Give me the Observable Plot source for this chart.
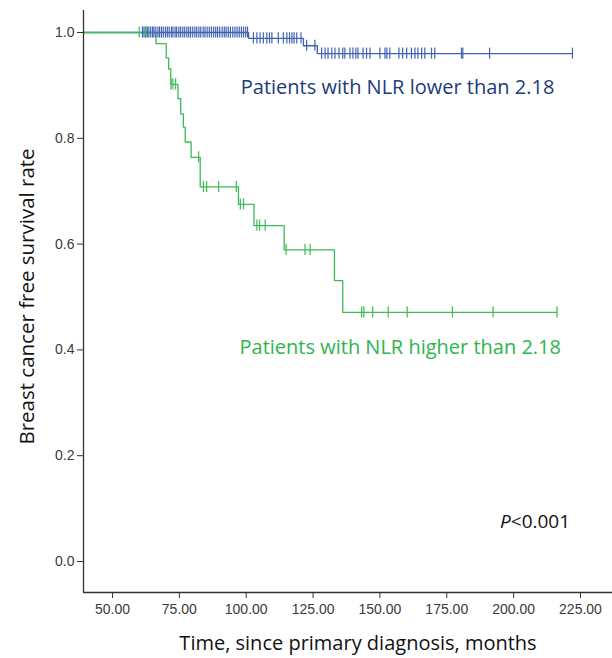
<!DOCTYPE html>
<html>
<head>
<meta charset="utf-8">
<script src="https://cdn.jsdelivr.net/npm/d3@7"></script>
<script src="https://cdn.jsdelivr.net/npm/@observablehq/plot@0.6"></script>
<style>
  html, body { margin: 0; padding: 0; background: #fff; }
  #chart svg { display: block; }
</style>
</head>
<body>
<div id="chart"></div>
<script>
// ---- data ----
const xTicks = [50, 75, 100, 125, 150, 175, 200, 225];
const yTicks = [0.0, 0.2, 0.4, 0.6, 0.8, 1.0];

// NLR lower than 2.18 (blue): Kaplan-Meier steps
const lowTime = [0, 100.9, 121.4, 126.6, 222.0];
const lowSurv = [1.0, 0.989, 0.975, 0.960, 0.960];
const lowCensor = [
  61.2, 61.8, 62.5, 63.0, 63.6, 64.3, 65.0, 65.5, 66.2, 67.0, 67.6, 68.3, 69.0, 69.8,
  70.5, 71.2, 72.0, 72.6, 73.4, 74.0, 74.8, 75.5, 76.3, 77.0, 77.8, 78.5, 79.2, 80.0,
  80.8, 81.5, 82.3, 83.0, 83.9, 84.6, 85.4, 86.2, 87.0, 87.8, 88.6, 89.3, 90.1, 91.0,
  91.8, 92.5, 93.3, 94.1, 95.0, 95.8, 96.6, 97.4, 98.2, 99.0, 99.8, 100.5,
  102.7, 104.0, 105.2, 106.4, 107.7, 108.7, 109.6, 112.0, 113.9, 115.2, 116.2, 117.1,
  117.9, 118.9, 120.5,
  122.6, 125.7,
  128.2, 129.5, 130.6, 132.0, 133.2, 134.7, 136.1, 136.9, 138.8, 139.9, 141.0, 141.8,
  143.7, 145.0, 146.3, 150.0, 151.9, 152.6, 153.7, 157.1, 158.5, 160.0, 161.8, 163.1,
  164.2, 165.6, 166.8, 169.3, 170.5, 180.5, 181.0, 191.0, 222.0
];

// NLR higher than 2.18 (green): Kaplan-Meier steps
const highTime = [0, 66.3, 70.1, 71.0, 71.8, 74.5, 75.5, 76.5, 77.2, 79.4, 82.8, 97.1, 102.9, 114.2, 133.0, 136.1, 216.2];
const highSurv = [1.0, 0.979, 0.952, 0.931, 0.902, 0.875, 0.846, 0.821, 0.793, 0.764, 0.708, 0.675, 0.635, 0.589, 0.531, 0.471, 0.471];
const highCensor = [
  60.0, 62.3, 71.9, 72.6, 73.6, 82.2, 84.0, 85.2, 89.7, 96.3, 97.8, 99.0,
  104.0, 105.0, 107.1, 114.9, 122.0, 123.9,
  143.2, 144.0, 147.3, 153.1, 160.2, 177.1, 192.3, 216.2
];

const labels = {
  low: "Patients with NLR lower than 2.18",
  high: "Patients with NLR higher than 2.18",
  yTitle: "Breast cancer free survival rate",
  xTitle: "Time, since primary diagnosis, months"
};

// ---- build tables ----
const steps = (times, surv) => times.map((t, i) => ({t, s: surv[i]}));
const survAt = (times, surv, t) => {
  let s = surv[0];
  for (let i = 0; i < times.length; i++) if (times[i] <= t) s = surv[i];
  return s;
};
const lowSteps = steps(lowTime, lowSurv);
const highSteps = steps(highTime, highSurv);
const lowMarks = lowCensor.map(t => ({t, s: survAt(lowTime, lowSurv, t)}));
const highMarks = highCensor.map(t => ({t, s: survAt(highTime, highSurv, t)}));

const BLUE = "#4262b2";
const GREEN = "#3dbb56";
const X0 = 39.16, X1 = 236.97, Y0 = -0.0586, Y1 = 1.0416;
const half = 0.0105;
const tickFont = "'Liberation Sans', Arial, sans-serif";
const textFont = "'Open Sans', 'Noto Sans', sans-serif";

const chart = Plot.plot({
  width: 612,
  height: 658,
  marginLeft: 83,
  marginRight: 0,
  marginTop: 10,
  marginBottom: 66,
  style: {background: "#fff", fontFamily: tickFont},
  x: {domain: [X0, X1]},
  y: {domain: [Y0, Y1]},
  marks: [
    Plot.line(lowSteps, {x: "t", y: "s", curve: "step-after", stroke: BLUE, strokeWidth: 1.3, clip: true}),
    Plot.line(highSteps, {x: "t", y: "s", curve: "step-after", stroke: GREEN, strokeWidth: 1.3, clip: true}),
    Plot.ruleX(lowMarks, {x: "t", y1: d => d.s - half, y2: d => d.s + half, stroke: BLUE, strokeWidth: 1.2}),
    Plot.ruleX(highMarks, {x: "t", y1: d => d.s - half, y2: d => d.s + half, stroke: GREEN, strokeWidth: 1.2}),
    Plot.axisX({ticks: xTicks, tickFormat: d3.format(".2f"), tickSize: 6, tickPadding: 6,
      fontSize: 14, color: "#3a3a3a", stroke: "#333", label: null}),
    Plot.axisY({ticks: yTicks, tickFormat: d3.format(".1f"), tickSize: 6, tickPadding: 3,
      fontSize: 14, color: "#3a3a3a", stroke: "#333", label: null}),
    Plot.ruleX([X0], {stroke: "#333", strokeWidth: 1.3}),
    Plot.ruleY([Y0], {stroke: "#333", strokeWidth: 1.3}),
    Plot.text([labels.low], {x: 156.6, y: 0.895, text: d => d, fill: "#213a7c", fontSize: 20,
      fontFamily: textFont, textAnchor: "middle"}),
    Plot.text([labels.high], {x: 157.6, y: 0.405, text: d => d, fill: "#2fb34e", fontSize: 20,
      fontFamily: textFont, textAnchor: "middle"}),
    Plot.text([labels.yTitle], {frameAnchor: "left", rotate: -90, dx: -56, dy: -5, textAnchor: "middle",
      lineAnchor: "middle", text: d => d, fill: "#111", fontSize: 20.5, fontFamily: textFont}),
    Plot.text([labels.xTitle], {frameAnchor: "bottom", dx: 10, dy: 51, lineAnchor: "middle", text: d => d,
      fill: "#111", fontSize: 20, fontFamily: textFont})
  ]
});

// P-value annotation with italic P, placed through the chart's own scales
const sx = chart.scale("x"), sy = chart.scale("y");
const svg = d3.select(chart);
const pt = svg.append("text")
  .attr("x", sx.apply(221.3)).attr("y", sy.apply(0.062))
  .attr("text-anchor", "end")
  .attr("font-family", textFont).attr("font-size", 19).attr("fill", "#111");
pt.append("tspan").attr("font-style", "italic").text("P");
pt.append("tspan").text("<0.001");

document.getElementById("chart").appendChild(chart);
</script>
</body>
</html>
